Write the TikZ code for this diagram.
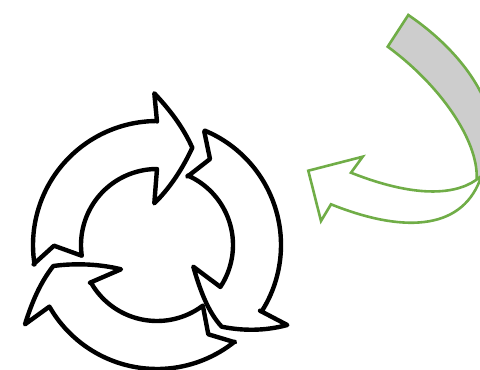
\documentclass[tikz,border=0pt]{standalone}
\definecolor{bandgray}{HTML}{CDCDCD}
\definecolor{bandgreen}{HTML}{70AD47}
\tikzset{
  blackarrow/.style={draw=black,line width=4.4pt,line join=round,line cap=round},
  greenline/.style={draw=bandgreen,line width=2.6pt,line join=miter},
}
\begin{document}
\begin{tikzpicture}[x=1pt,y=-1pt]
\useasboundingbox (0,0) rectangle (480,370);
\clip (0,0) rectangle (480,370);
% top arrow
\draw[blackarrow] (33.5,264.3) -- (54,245.7) -- (81.7,255.7)
  -- plot[smooth,domain=188:90,samples=25] ({157+76*cos(\x)},{245-76*sin(\x)})
  -- (154.3,203.3) .. controls (170,188) and (183,168) .. (192.3,147.7)
  .. controls (183,127) and (170,110) .. (154.3,93.3) -- (157,121.5)
  -- plot[smooth,domain=90:189,samples=25] ({157+124*cos(\x)},{245-124*sin(\x)})
  -- cycle;
% right arrow
\draw[blackarrow] (204.3,131.7) -- (210,159) -- (187.3,176.7)
  -- plot[smooth,domain=66:-33.5,samples=25] ({157+76*cos(\x)},{245-76*sin(\x)})
  -- (193.3,266.7) .. controls (200,290) and (208,312) .. (221.7,326.7)
  .. controls (243,331) and (265,331) .. (287.3,325) -- (260,310.7)
  -- plot[smooth,domain=-32.5:67.3,samples=25] ({157+124*cos(\x)},{245-124*sin(\x)})
  -- cycle;
% bottom arrow
\draw[blackarrow] (25,324.3) .. controls (32,302) and (40,283) .. (53.3,266)
  .. controls (75,263) and (100,264) .. (121,269.3) -- (90,282.7)
  -- plot[smooth,domain=-150.6:-52.9,samples=25] ({157+76*cos(\x)},{245-76*sin(\x)})
  -- (208.3,334.3) -- (235,342.3)
  -- plot[smooth,domain=-51.3:-150.2,samples=25] ({157+124*cos(\x)},{245-124*sin(\x)})
  -- cycle;
% green band
\draw[greenline,fill=bandgray] (408.3,15) .. controls (445,40) and (478,75) .. (490,115)
  -- (490,178) -- (476.7,178.3) .. controls (478,140) and (440,85) .. (387.7,46.7) -- cycle;
% green arrow
\draw[greenline,fill=white] (480,177) .. controls (460,194) and (420,200) .. (351,172.7)
  -- (362.7,156.7) -- (308.3,170.7) -- (321,221) -- (331,204.3)
  .. controls (400,232) and (460,232) .. (480,180) -- cycle;
\end{tikzpicture}
\end{document}
